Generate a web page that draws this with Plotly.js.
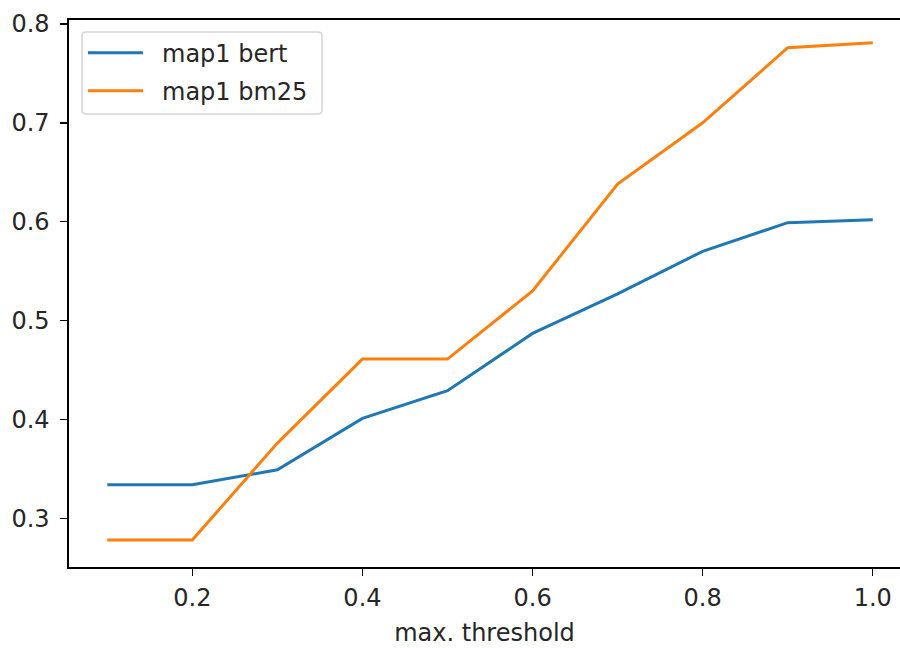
<!DOCTYPE html>
<html>
<head>
<meta charset="utf-8">
<script src="https://cdn.plot.ly/plotly-3.0.1.min.js"></script>
<style>html,body{margin:0;padding:0;background:#fff}#chart{width:900px;height:648px}</style>
</head>
<body>
<div id="chart"></div>
<script>
const thresholds = [0.1, 0.2, 0.3, 0.4, 0.5, 0.6, 0.7, 0.8, 0.9, 1.0];
const map1Bert = [0.334, 0.334, 0.349, 0.401, 0.429, 0.487, 0.527, 0.570, 0.599, 0.602];
const map1Bm25 = [0.278, 0.278, 0.376, 0.461, 0.461, 0.530, 0.638, 0.700, 0.776, 0.781];
const seriesNames = ['map1 bert', 'map1 bm25'];
const seriesColors = ['#1f77b4', '#ff7f0e'];
const xTicks = [0.2, 0.4, 0.6, 0.8, 1.0];
const xTickLabels = ['0.2', '0.4', '0.6', '0.8', '1.0'];
const yTicks = [0.3, 0.4, 0.5, 0.6, 0.7, 0.8];
const yTickLabels = ['0.3', '0.4', '0.5', '0.6', '0.7', '0.8'];

const font = {family: 'DejaVu Sans, sans-serif', size: 24, color: '#262626'};

const traces = [
  {x: thresholds, y: map1Bert, type: 'scatter', mode: 'lines', name: seriesNames[0],
   line: {color: seriesColors[0], width: 3}, showlegend: false},
  {x: thresholds, y: map1Bm25, type: 'scatter', mode: 'lines', name: seriesNames[1],
   line: {color: seriesColors[1], width: 3}, showlegend: false}
];

// Legend drawn in paper coordinates (plot area: x 69..900 px, y 20..567 px)
const W = 831, H = 547;
const px = v => (v - 69) / W;
const py = v => (567 - v) / H;
const bx0 = px(82), bx1 = px(322), by0 = py(114), by1 = py(32);
const rx = 4 / W, ry = 4 / H;
const boxPath = `M${bx0 + rx},${by1} L${bx1 - rx},${by1} Q${bx1},${by1} ${bx1},${by1 - ry} ` +
  `L${bx1},${by0 + ry} Q${bx1},${by0} ${bx1 - rx},${by0} L${bx0 + rx},${by0} ` +
  `Q${bx0},${by0} ${bx0},${by0 + ry} L${bx0},${by1 - ry} Q${bx0},${by1} ${bx0 + rx},${by1} Z`;
const entryY = [52.7, 90.7];
const shapes = [{type: 'path', xref: 'paper', yref: 'paper', path: boxPath,
  fillcolor: 'rgba(255,255,255,0.8)', line: {color: '#d5d5d5', width: 1.5}, layer: 'above'}];
const annotations = [];
seriesNames.forEach((n, i) => {
  shapes.push({type: 'line', xref: 'paper', yref: 'paper', x0: px(88), x1: px(143),
    y0: py(entryY[i]), y1: py(entryY[i]), line: {color: seriesColors[i], width: 3}, layer: 'above'});
  annotations.push({xref: 'paper', yref: 'paper', x: px(160), y: py(entryY[i] + 1),
    xanchor: 'left', yanchor: 'middle', text: n, showarrow: false, font: font});
});

const layout = {
  width: 900, height: 648,
  margin: {l: 69, r: 0, t: 20, b: 81, pad: 0},
  paper_bgcolor: '#ffffff', plot_bgcolor: '#ffffff',
  font: font,
  showlegend: false,
  shapes: shapes,
  annotations: annotations,
  xaxis: {range: [0.055, 1.032], tickvals: xTicks, ticktext: xTickLabels,
          showgrid: false, zeroline: false, showline: true, linecolor: '#000', linewidth: 1.6,
          mirror: true, ticks: 'outside', ticklen: 7, tickwidth: 1.4, tickcolor: '#000',
          ticklabelstandoff: 2,
          tickfont: font, title: {text: 'max. threshold', font: font, standoff: 13}},
  yaxis: {range: [0.2507, 0.804], tickvals: yTicks, ticktext: yTickLabels,
          showgrid: false, zeroline: false, showline: true, linecolor: '#000', linewidth: 1.6,
          mirror: false, ticks: 'outside', ticklen: 7, tickwidth: 1.4, tickcolor: '#000',
          ticklabelstandoff: 6,
          tickfont: font}
};

Plotly.newPlot('chart', traces, layout, {staticPlot: true, displayModeBar: false});
</script>
</body>
</html>
